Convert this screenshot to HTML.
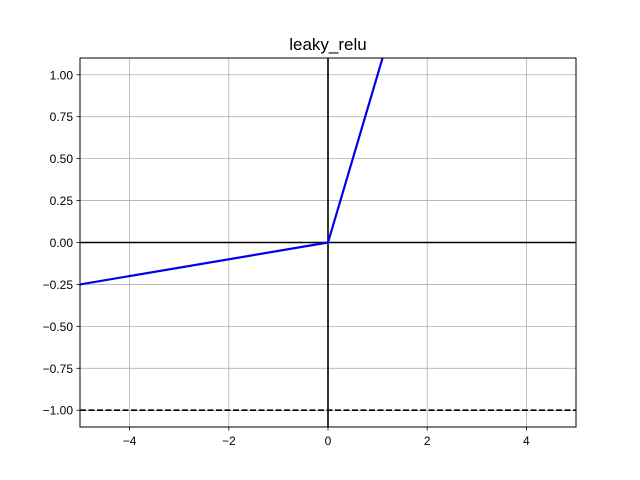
<!DOCTYPE html>
<html><head><meta charset="utf-8"><style>body{margin:0;background:#fff}svg{display:block}</style></head>
<body>
<svg id="chart" width="640" height="480" viewBox="0 0 640 480" xmlns="http://www.w3.org/2000/svg" font-family="Liberation Sans, DejaVu Sans, sans-serif">
<rect width="640" height="480" fill="#fff"/>
<defs><clipPath id="clip"><rect x="80" y="58" width="496" height="369"/></clipPath></defs>
<text x="328" y="50" text-anchor="middle" font-size="17">leaky_relu</text>
<g id="grid"></g>
<g id="marks" clip-path="url(#clip)"></g>
<rect x="80" y="58" width="496" height="369" fill="none" stroke="#000" stroke-width="1"/>
<g id="ticks"></g>
</svg>
<script>
const xTicks = [-4, -2, 0, 2, 4];
const xTickLabels = ["\u22124", "\u22122", "0", "2", "4"];
const yTicks = [-1, -0.75, -0.5, -0.25, 0, 0.25, 0.5, 0.75, 1];
const yTickLabels = ["\u22121.00", "\u22120.75", "\u22120.50", "\u22120.25", "0.00", "0.25", "0.50", "0.75", "1.00"];
const seriesX = [-5, 0, 5];
const seriesY = [-0.25, 0, 5];
const asymptoteY = [-1];

const L=80,R=576,T=58,B=427,xmin=-5,xmax=5,ymin=-1.1,ymax=1.1;
const sx=v=>L+(v-xmin)/(xmax-xmin)*(R-L);
const sy=v=>B-(v-ymin)/(ymax-ymin)*(B-T);
const NS="http://www.w3.org/2000/svg";
function mk(parent,tag,attrs){const e=document.createElementNS(NS,tag);for(const k in attrs)e.setAttribute(k,attrs[k]);parent.appendChild(e);return e;}
const grid=document.getElementById('grid'),marks=document.getElementById('marks'),ticks=document.getElementById('ticks');
xTicks.forEach((t,i)=>{
  const g=mk(grid,'line',{x1:sx(t),x2:sx(t),y1:T,y2:B,stroke:'#b0b0b0','stroke-width':0.8});
  
  
  const tk=mk(ticks,'line',{x1:sx(t),x2:sx(t),y1:B,y2:B+3.5,stroke:'#000','stroke-width':0.8});
  
  
  const tx=mk(ticks,'text',{x:sx(t),y:B+18,'text-anchor':'middle','font-size':12});
  tx.textContent=xTickLabels[i];
  
  
});
yTicks.forEach((t,i)=>{
  const g=mk(grid,'line',{x1:L,x2:R,y1:sy(t),y2:sy(t),stroke:'#b0b0b0','stroke-width':0.8});
  
  
  const tk=mk(ticks,'line',{x1:L-3.5,x2:L,y1:sy(t),y2:sy(t),stroke:'#000','stroke-width':0.8});
  
  
  const tx=mk(ticks,'text',{x:L-7,y:sy(t)+4.5,'text-anchor':'end','font-size':12});
  tx.textContent=yTickLabels[i];
  
  
});
const ax=mk(marks,'line',{x1:L,x2:R,y1:sy(0),y2:sy(0),stroke:'#000','stroke-width':1.6});


const ay=mk(marks,'line',{x1:sx(0),x2:sx(0),y1:T,y2:B,stroke:'#000','stroke-width':1.6});


asymptoteY.forEach(v=>{
  const d=mk(marks,'line',{x1:L,x2:R,y1:sy(v),y2:sy(v),stroke:'#000','stroke-width':1.6,'stroke-dasharray':'6,2.5'});
  
  
});
const pts=seriesX.map((x,i)=>sx(x)+','+sy(seriesY[i])).join(' ');
const pl=mk(marks,'polyline',{points:pts,fill:'none',stroke:'#0000ee','stroke-width':2.2});


</script>
</body></html>
